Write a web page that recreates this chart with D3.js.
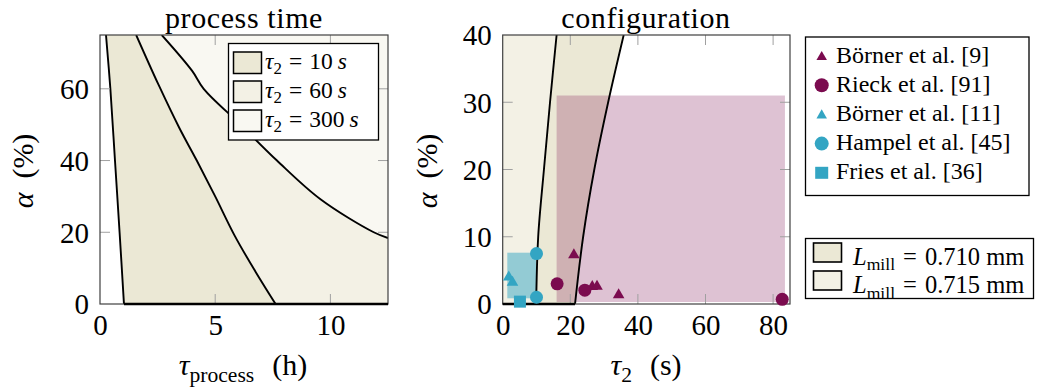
<!DOCTYPE html>
<html><head><meta charset="utf-8">
<script src="https://cdn.jsdelivr.net/npm/d3@7"></script>
<style>
body{margin:0;background:#fff}
svg{display:block}
text{font-family:"Liberation Serif","Times New Roman",serif;fill:#000}
</style></head><body>
<svg id="chart" width="1040" height="392"></svg>
<script>
// ---------------- data ----------------
const leftXTicks = [0, 5, 10];
const leftYTicks = [0, 20, 40, 60];
const rightXTicks = [0, 20, 40, 60, 80];
const rightYTicks = [0, 10, 20, 30, 40];

// left panel: boundaries [tau_process (h), alpha (%)]
const boundaryLeft1 = [[0.26,75],[0.45,60],[0.65,40],[0.85,20],[1.04,0]];
const boundaryLeft2 = [[1.57,75],[2.55,61],[3.45,49],[4.2,40],[5.0,30],[5.85,19],[6.75,9],[7.62,0]];
const boundaryLeft3 = [[2.68,75],[4.0,65],[4.5,60],[6.1,50],[7.68,40],[9.57,29.2],[11.88,20],[12.5,18.4]];
const leftLegendLabels = ["10", "60", "300"];

// right panel: boundaries [tau_2 (s), alpha (%)]
const boundaryL0710 = [[35.8,40],[31.2,30],[27.1,20],[23.8,10],[21.4,0]];
const boundaryL0715 = [[15.95,40],[14.0,30],[12.2,20],[10.5,10],[9.9,0]];
const millLabels = ["0.710", "0.715"];

// literature points [tau_2 (s), alpha (%)]
const borner9  = [[21.06,7.29],[26.5,2.58],[27.9,2.6],[34.3,1.34]];
const rieck91  = [[16.1,3.0],[24.3,2.05],[82.7,0.7]];
const borner11 = [[1.8,4.0],[2.9,3.2]];
const hampel45 = [[10.0,7.5],[10.0,1.0]];
const fries36  = [[5.1,0.35]];
// ranges [tauMin, tauMax, alphaMin, alphaMax]
const rieckRange  = [15.95, 83.5, 0.3, 31.0];
const hampelRange = [1.36, 9.85, 0.85, 7.63];
const refLabels = ["Börner et al. [9]","Rieck et al. [91]","Börner et al. [11]","Hampel et al. [45]","Fries et al. [36]"];

// ---------------- style ----------------
const C = {
  dark: "#ebe8d5", mid: "#f3f1e5", light: "#f9f8f2",
  purple: "#7b0b4f", cyan: "#33a5c3"
};
const svg = d3.select("#chart");
const FS_TICK = 29, FS_LAB = 30, FS_TITLE = 30, FS_LEG = 23.5;

function setup(id, xd, yd, x0, x1, y0, y1) {
  const x = d3.scaleLinear().domain(xd).range([x0, x1]);
  const y = d3.scaleLinear().domain(yd).range([y1, y0]);
  svg.append("clipPath").attr("id", id).append("rect")
    .attr("x", x0).attr("y", y0).attr("width", x1 - x0).attr("height", y1 - y0);
  const g = svg.append("g");
  const clip = g.append("g").attr("clip-path", `url(#${id})`);
  const line = d3.line().x(d => x(d[0])).y(d => y(d[1])).curve(d3.curveCatmullRom.alpha(0.5));
  return {x, y, g, clip, line, x0, x1, y0, y1};
}

function ticksAndFrame(p, xt, yt) {
  const tl = 10;
  const tg = p.g.append("g").attr("stroke", "#a0a0a0").attr("stroke-width", 1);
  xt.forEach(t => {
    const X = p.x(t);
    if (X <= p.x0 + 1 || X >= p.x1 - 1) return;
    tg.append("line").attr("x1", X).attr("x2", X).attr("y1", p.y1).attr("y2", p.y1 - tl);
    tg.append("line").attr("x1", X).attr("x2", X).attr("y1", p.y0).attr("y2", p.y0 + tl);
  });
  yt.forEach(t => {
    const Y = p.y(t);
    if (Y <= p.y0 + 1 || Y >= p.y1 - 1) return;
    tg.append("line").attr("x1", p.x0).attr("x2", p.x0 + tl).attr("y1", Y).attr("y2", Y);
    tg.append("line").attr("x1", p.x1).attr("x2", p.x1 - tl).attr("y1", Y).attr("y2", Y);
  });
  p.g.append("rect").attr("x", p.x0).attr("y", p.y0)
    .attr("width", p.x1 - p.x0).attr("height", p.y1 - p.y0)
    .attr("fill", "none").attr("stroke", "#404040").attr("stroke-width", 1.2);
  const xa = d3.axisBottom(p.x).tickValues(xt).tickSize(0).tickPadding(0);
  const gx = p.g.append("g").attr("transform", `translate(0,${p.y1})`).call(xa);
  gx.select(".domain").remove();
  gx.selectAll("text").attr("font-size", FS_TICK).attr("font-family", "Liberation Serif")
    .attr("dy", null).attr("y", 31).attr("fill", "#000");
  const ya = d3.axisLeft(p.y).tickValues(yt).tickSize(0).tickPadding(11);
  const gy = p.g.append("g").attr("transform", `translate(${p.x0},0)`).call(ya);
  gy.select(".domain").remove();
  gy.selectAll("text").attr("font-size", FS_TICK).attr("font-family", "Liberation Serif")
    .attr("dy", "0.34em").attr("fill", "#000");
}

function mathText(sel, parts, fs) {
  let shift = 0;
  parts.forEach(([t, st, dx]) => {
    const ts = sel.append("tspan").text(t);
    if (dx) ts.attr("dx", dx);
    if (st === "i") ts.attr("font-style", "italic");
    if (st === "sub") {
      ts.attr("font-size", fs * 0.72).attr("dy", fs * 0.22 - shift); shift = fs * 0.22;
    } else {
      ts.attr("font-size", fs);
      if (shift) { ts.attr("dy", -shift); shift = 0; }
    }
  });
  return sel;
}

// ================= LEFT PANEL =================
const L = setup("clipL", [0, 12.5], [0, 75], 100, 388, 35, 304);
function regionLeftOf(p, pts, xmin, xmax, ymin, ymax) {
  let d = p.line(pts);
  const last = pts[pts.length - 1];
  if (last[1] > ymin) d += `L${p.x(last[0])},${p.y(ymin)}`;
  d += `L${p.x(xmin)},${p.y(ymin)}L${p.x(xmin)},${p.y(ymax)}Z`;
  return d;
}
L.clip.append("rect").attr("x", L.x0).attr("y", L.y0).attr("width", L.x1 - L.x0).attr("height", L.y1 - L.y0).attr("fill", C.light);
L.clip.append("path").attr("d", regionLeftOf(L, boundaryLeft3, 0, 12.5, 0, 75)).attr("fill", C.mid);
L.clip.append("path").attr("d", regionLeftOf(L, boundaryLeft2, 0, 12.5, 0, 75)).attr("fill", C.dark);
L.clip.append("path").attr("d", regionLeftOf(L, boundaryLeft1, 0, 12.5, 0, 75)).attr("fill", "#fff");
ticksAndFrame(L, leftXTicks, leftYTicks);
[boundaryLeft1, boundaryLeft2, boundaryLeft3].forEach(b => {
  L.clip.append("path").attr("d", L.line(b)).attr("fill", "none").attr("stroke", "#000").attr("stroke-width", 1.9);
});
L.g.append("line").attr("x1", L.x(boundaryLeft1[boundaryLeft1.length - 1][0])).attr("x2", L.x(12.5))
  .attr("y1", L.y(0)).attr("y2", L.y(0)).attr("stroke", "#000").attr("stroke-width", 2.4);

// legend left
const legL = L.g.append("g");
legL.append("rect").attr("x", 228.5).attr("y", 43.5).attr("width", 150).attr("height", 96.5)
  .attr("fill", "#fff").attr("stroke", "#000").attr("stroke-width", 1.3);
[C.dark, C.mid, C.light].forEach((c, i) => {
  const yy = 52 + i * 29;
  legL.append("rect").attr("x", 233.5).attr("y", yy).attr("width", 28).attr("height", 21.5)
    .attr("fill", c).attr("stroke", "#000").attr("stroke-width", 1.5);
  const t = legL.append("text").attr("x", 265).attr("y", yy + 16.5);
  mathText(t, [["τ", "i"], ["2", "sub"], ["=", "n", 7], [leftLegendLabels[i], "n", 7], ["s", "i", 5]], FS_LEG);
});

// titles & labels
svg.append("text").attr("x", 244).attr("y", 27.5).attr("text-anchor", "middle").attr("font-size", FS_TITLE)
  .attr("letter-spacing", 0.6).text("process time");
mathText(svg.append("text").attr("x", 243).attr("y", 375).attr("text-anchor", "middle"),
  [["τ", "i"], ["process", "sub"], ["(h)", "n", 18]], FS_LAB);
mathText(svg.append("text").attr("transform", "translate(33,171) rotate(-90)").attr("text-anchor", "middle"),
  [["α", "i"], ["(%)", "n", 14]], FS_LAB);

// ================= RIGHT PANEL =================
const R = setup("clipR", [0, 85], [0, 40], 502.7, 790, 35, 304);
R.clip.append("path").attr("d", regionLeftOf(R, boundaryL0715, 0, 85, 0, 40)).attr("fill", C.mid);
R.clip.append("path").attr("d", R.line(boundaryL0710) + R.line(boundaryL0715.slice().reverse()).replace(/^M/, "L") + "Z")
  .attr("fill", C.dark);
R.clip.append("rect").attr("x", R.x(rieckRange[0])).attr("y", R.y(rieckRange[3]))
  .attr("width", R.x(rieckRange[1]) - R.x(rieckRange[0])).attr("height", R.y(rieckRange[2]) - R.y(rieckRange[3]))
  .attr("fill", C.purple).attr("fill-opacity", 0.25);
R.clip.append("rect").attr("x", R.x(hampelRange[0])).attr("y", R.y(hampelRange[3]))
  .attr("width", R.x(hampelRange[1]) - R.x(hampelRange[0])).attr("height", R.y(hampelRange[2]) - R.y(hampelRange[3]))
  .attr("fill", C.cyan).attr("fill-opacity", 0.5);
ticksAndFrame(R, rightXTicks, rightYTicks);
[boundaryL0710, boundaryL0715].forEach(b => {
  R.clip.append("path").attr("d", R.line(b)).attr("fill", "none").attr("stroke", "#000").attr("stroke-width", 1.9);
});
R.g.append("line").attr("x1", R.x(0)).attr("x2", R.x(boundaryL0710[boundaryL0710.length - 1][0]))
  .attr("y1", R.y(0)).attr("y2", R.y(0)).attr("stroke", "#000").attr("stroke-width", 2.4);

const tri = d3.symbol(d3.symbolTriangle, 58)();
function markers(data, shape, color) {
  const g = R.g.append("g").attr("fill", color);
  data.forEach(d => {
    const X = R.x(d[0]), Y = R.y(d[1]);
    if (shape === "tri") g.append("path").attr("d", tri).attr("transform", `translate(${X},${Y})`);
    else if (shape === "circ") g.append("circle").attr("cx", X).attr("cy", Y).attr("r", 6.5);
    else g.append("rect").attr("x", X - 6).attr("y", Y - 6).attr("width", 12).attr("height", 12);
  });
}
markers(borner11, "tri", C.cyan);
markers(hampel45, "circ", C.cyan);
markers(fries36, "sq", C.cyan);
markers(borner9, "tri", C.purple);
markers(rieck91, "circ", C.purple);

svg.append("text").attr("x", 646).attr("y", 27.5).attr("text-anchor", "middle").attr("font-size", FS_TITLE)
  .attr("letter-spacing", 0.6).text("configuration");
mathText(svg.append("text").attr("x", 646).attr("y", 375).attr("text-anchor", "middle"),
  [["τ", "i"], ["2", "sub"], ["(s)", "n", 18]], FS_LAB);
mathText(svg.append("text").attr("transform", "translate(437,171) rotate(-90)").attr("text-anchor", "middle"),
  [["α", "i"], ["(%)", "n", 14]], FS_LAB);

// legend: references
const legR = svg.append("g");
legR.append("rect").attr("x", 805.5).attr("y", 37).attr("width", 223.5).attr("height", 158.5)
  .attr("fill", "#fff").attr("stroke", "#000").attr("stroke-width", 1.3);
const refStyle = [["tri", C.purple], ["circ", C.purple], ["tri", C.cyan], ["circ", C.cyan], ["sq", C.cyan]];
refLabels.forEach((lab, i) => {
  const base = 62.5 + i * 29.2;
  const cy = base - 6.5;
  const [sh, col] = refStyle[i];
  if (sh === "tri") legR.append("path").attr("d", d3.symbol(d3.symbolTriangle, 48)()).attr("transform", `translate(821.7,${cy + 1})`).attr("fill", col);
  else if (sh === "circ") legR.append("circle").attr("cx", 821.7).attr("cy", cy).attr("r", 7).attr("fill", col);
  else legR.append("rect").attr("x", 815.2).attr("y", cy - 6).attr("width", 13).attr("height", 12).attr("fill", col);
  legR.append("text").attr("x", 836).attr("y", base).attr("font-size", 24).text(lab);
});

// legend: mill length
const legM = svg.append("g");
legM.append("rect").attr("x", 805.5).attr("y", 238.5).attr("width", 228).attr("height", 60)
  .attr("fill", "#fff").attr("stroke", "#000").attr("stroke-width", 1.3);
[C.dark, C.mid].forEach((c, i) => {
  const yy = 243 + i * 28;
  legM.append("rect").attr("x", 813.5).attr("y", yy).attr("width", 28).attr("height", 19)
    .attr("fill", c).attr("stroke", "#000").attr("stroke-width", 1.6);
  const t = legM.append("text").attr("x", 853).attr("y", 265 + i * 28.3);
  mathText(t, [["L", "i"], ["mill", "sub"], ["=", "n", 8], [millLabels[i] + " mm", "n", 8]], 24.5);
});
</script>
</body></html>
